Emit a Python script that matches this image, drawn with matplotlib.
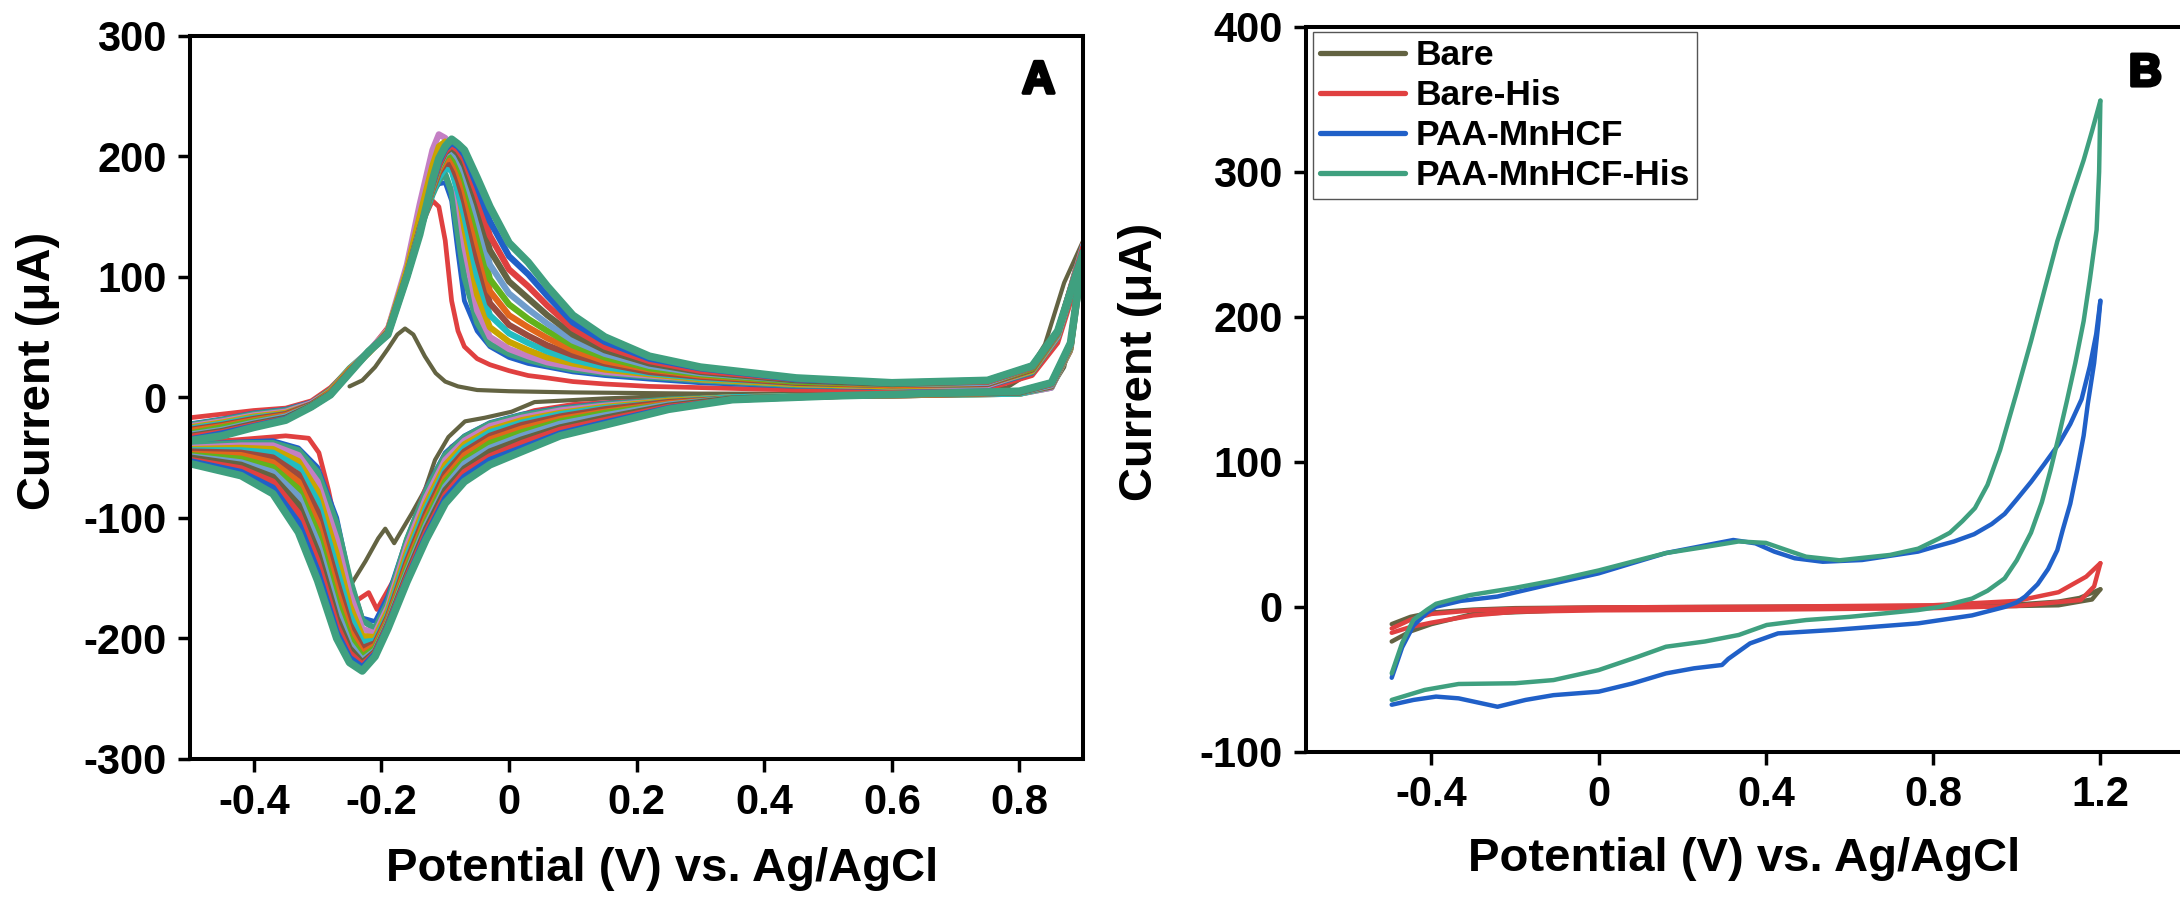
import matplotlib.pyplot as plt
from matplotlib import patheffects

plt.rcParams['font.family'] = ['Liberation Sans', 'DejaVu Sans']
plt.rcParams['font.weight'] = 'bold'
plt.rcParams['axes.unicode_minus'] = False

# ---------------- Panel A: 15 CV-Zyklen ----------------
# gemeinsame Potentialstuetzstellen (V) fuer Hin- und Rueckscan
E_fwd = [-0.50, -0.45, -0.40, -0.35, -0.31, -0.28, -0.25, -0.22, -0.19, -0.16,
         -0.14, -0.12, -0.11, -0.10, -0.09, -0.08, -0.07, -0.05, -0.03, 0.00,
         0.03, 0.06, 0.10, 0.15, 0.22, 0.30, 0.45, 0.60, 0.75, 0.82, 0.86, 0.90]
E_rev = [0.90, 0.88, 0.85, 0.80, 0.65, 0.50, 0.35, 0.25, 0.15, 0.08,
         0.02, -0.03, -0.07, -0.10, -0.13, -0.16, -0.19, -0.21, -0.23, -0.25,
         -0.27, -0.30, -0.33, -0.37, -0.42, -0.50]

# Zyklus 1 (eigene Stuetzstellen)
c1_fwd_E = [-0.25, -0.23, -0.21, -0.19, -0.175, -0.163, -0.15, -0.132, -0.115, -0.10,
            -0.08, -0.05, 0.0, 0.1, 0.3, 0.5, 0.7, 0.78, 0.81, 0.84, 0.87, 0.90]
c1_fwd = [9, 14, 25, 40, 52, 57, 52, 34, 20, 13, 9, 6, 5, 4, 3, 3, 4, 8, 18, 44, 95, 130]
c1_rev_E = [0.90, 0.885, 0.87, 0.85, 0.80, 0.6, 0.4, 0.3, 0.15, 0.04, 0.004, -0.038,
            -0.069, -0.095, -0.116, -0.132, -0.152, -0.17, -0.18, -0.194, -0.205, -0.225, -0.246]
c1_rev = [130, 60, 25, 8, 3, 2, 2, 2, -1, -4, -12, -17,
          -20, -33, -52, -77, -96, -112, -121, -109, -117, -136, -154]

# Zyklus 2
c2_fwd = [-17, -14, -11, -9, -3, 8, 24, 38, 58, 106, 140, 163, 158, 130, 80, 55,
          42, 32, 27, 22, 18, 16, 13, 11, 9, 8, 6, 5, 7, 18, 45, 112]
c2_rev_E = [0.90, 0.88, 0.85, 0.80, 0.60, 0.40, 0.20, 0.10, 0.04, -0.038, -0.09, -0.132,
            -0.155, -0.18, -0.207, -0.22, -0.24, -0.257, -0.27, -0.283, -0.298, -0.314,
            -0.35, -0.42, -0.50]
c2_rev = [112, 38, 8, 3, 1, 0, -3, -6, -11, -24, -41, -77,
          -112, -151, -176, -162, -169, -149, -110, -77, -46, -34, -32, -35, -38]

# Zyklus 3
c3_fwd = [-22, -18, -13, -10, -4, 6, 23, 37, 55, 104, 140, 170, 177, 178, 163, 120,
          80, 55, 42, 33, 28, 25, 21, 18, 15, 12, 9, 8, 9, 20, 50, 118]
c3_rev = [118, 40, 8, 3, 2, 1, 0, -2, -5, -9, -14, -21, -32, -46, -76, -117,
          -165, -186, -183, -150, -100, -58, -42, -36, -37, -39]

# Zyklen 4 - 15
c4_fwd = [-23, -19, -14, -11, -5, 6, 24, 38, 55, 100, 138, 168, 180, 185, 170, 135,
          100, 62, 44, 36, 31, 27, 23, 20, 17, 14, 10, 9, 10, 21, 50, 118]
c4_rev = [118, 40, 8, 3, 2, 1, 0, -2, -6, -10, -15, -22, -33, -48, -78, -118,
          -170, -192, -185, -150, -105, -62, -44, -38, -38, -40]
c5_fwd = [-24, -20, -15, -12, -5, 5, 23, 38, 56, 110, 160, 205, 218, 215, 200, 165,
          125, 72, 50, 40, 34, 29, 25, 21, 18, 15, 11, 9, 10, 22, 51, 124]
c5_rev = [124, 41, 8, 3, 2, 1, 0, -3, -7, -11, -17, -24, -36, -52, -83, -123,
          -174, -196, -192, -162, -118, -70, -48, -40, -40, -42]
c6_fwd = [-25, -21, -16, -13, -6, 5, 23, 37, 55, 106, 150, 192, 208, 212, 200, 175,
          140, 85, 58, 46, 39, 33, 28, 23, 19, 15, 11, 9, 11, 22, 52, 126]
c6_rev = [126, 41, 9, 3, 2, 1, 0, -3, -8, -13, -19, -27, -39, -56, -88, -128,
          -177, -199, -198, -172, -130, -78, -53, -43, -42, -43]
c7_fwd = [-26, -22, -17, -14, -6, 4, 22, 37, 54, 102, 140, 170, 182, 190, 188, 170,
          150, 100, 68, 53, 45, 38, 31, 25, 20, 16, 12, 10, 11, 23, 52, 125]
c7_rev = [125, 42, 9, 3, 2, 1, 0, -4, -9, -14, -21, -29, -42, -60, -92, -132,
          -180, -202, -203, -180, -142, -86, -58, -46, -44, -44]
c8_fwd = [-27, -23, -18, -14, -6, 4, 22, 37, 54, 102, 140, 172, 186, 194, 193, 180,
          162, 115, 78, 60, 51, 43, 35, 28, 21, 17, 12, 10, 11, 23, 53, 127]
c8_rev = [127, 42, 9, 4, 2, 1, -1, -4, -10, -16, -23, -32, -45, -63, -96, -136,
          -182, -204, -208, -188, -152, -95, -64, -50, -46, -45]
c9_fwd = [-28, -24, -19, -15, -7, 4, 22, 37, 53, 101, 139, 173, 188, 197, 198, 188,
          172, 128, 88, 68, 58, 49, 39, 30, 23, 18, 13, 10, 12, 24, 53, 123]
c9_rev = [123, 43, 10, 4, 2, 1, -1, -5, -12, -18, -26, -35, -48, -67, -100, -139,
          -184, -206, -212, -194, -161, -104, -70, -54, -48, -47]
c10_fwd = [-30, -25, -20, -16, -7, 3, 21, 37, 53, 101, 138, 174, 190, 200, 202, 193,
           180, 140, 98, 77, 65, 55, 43, 33, 24, 19, 13, 11, 12, 24, 54, 125]
c10_rev = [125, 43, 10, 4, 3, 1, -1, -6, -13, -20, -29, -38, -52, -70, -103, -142,
           -186, -208, -215, -199, -169, -112, -76, -58, -51, -48]
c11_fwd = [-31, -27, -21, -16, -7, 3, 21, 38, 53, 100, 138, 175, 191, 202, 205, 198,
           186, 150, 110, 86, 73, 61, 47, 36, 26, 20, 14, 11, 12, 25, 54, 126]
c11_rev = [126, 43, 10, 4, 3, 1, -1, -6, -15, -22, -32, -42, -55, -74, -106, -145,
           -187, -210, -218, -204, -176, -120, -82, -62, -54, -49]
c12_fwd = [-32, -28, -22, -17, -7, 3, 21, 38, 52, 100, 137, 176, 192, 203, 207, 202,
           192, 160, 122, 96, 82, 68, 52, 39, 28, 21, 14, 11, 13, 25, 54, 122]
c12_rev = [122, 44, 11, 4, 3, 1, -1, -7, -17, -25, -35, -45, -59, -77, -109, -147,
           -188, -211, -220, -208, -183, -128, -89, -66, -56, -50]
c13_fwd = [-33, -29, -23, -18, -8, 2, 20, 38, 52, 100, 136, 177, 193, 204, 209, 205,
           197, 168, 134, 106, 92, 76, 57, 42, 30, 22, 15, 12, 13, 25, 55, 124]
c13_rev = [124, 44, 11, 5, 3, 1, -2, -8, -19, -27, -38, -49, -62, -81, -112, -149,
           -189, -212, -222, -212, -189, -136, -96, -70, -59, -52]
c14_fwd = [-35, -30, -24, -18, -8, 2, 20, 38, 52, 100, 136, 178, 195, 206, 211, 208,
           201, 175, 146, 117, 102, 84, 62, 46, 32, 24, 15, 12, 14, 26, 55, 121]
c14_rev = [121, 45, 12, 5, 3, 1, -2, -9, -21, -30, -42, -52, -66, -84, -115, -151,
           -190, -213, -224, -216, -195, -144, -104, -75, -62, -53]
c15_fwd = [-36, -32, -25, -19, -8, 2, 20, 38, 52, 100, 135, 180, 198, 208, 214, 210,
           205, 182, 158, 128, 112, 92, 68, 50, 34, 25, 16, 12, 14, 26, 55, 120]
c15_rev = [120, 45, 12, 5, 3, 1, -2, -10, -23, -32, -45, -56, -70, -88, -118, -153,
           -192, -215, -227, -220, -200, -152, -112, -80, -65, -55]

a_xticks = [-0.4, -0.2, 0, 0.2, 0.4, 0.6, 0.8]
a_xticklabels = ['-0.4', '-0.2', '0', '0.2', '0.4', '0.6', '0.8']
a_yticks = [-300, -200, -100, 0, 100, 200, 300]
a_yticklabels = ['-300', '-200', '-100', '0', '100', '200', '300']

# ---------------- Panel B: vier Elektroden ----------------
bare_fwd_E = [-0.495, -0.45, -0.40, -0.30, -0.20, 0.0, 0.40, 0.80, 1.00, 1.10, 1.15, 1.20]
bare_fwd_I = [-12, -7, -4, -2, -1, -0.5, 0, 0.5, 1.5, 3.5, 6, 12]
bare_rev_E = [1.20, 1.18, 1.10, 0.90, 0.50, 0.0, -0.30, -0.40, -0.45, -0.495]
bare_rev_I = [12, 5, 1, 0, -0.5, -1.5, -5, -12, -17, -24]

bh_fwd_E = [-0.495, -0.45, -0.40, -0.30, -0.20, 0.0, 0.40, 0.80, 1.00, 1.10, 1.166, 1.20]
bh_fwd_I = [-15, -9, -5, -2.5, -1.5, -0.5, 0, 1, 4, 10, 20.7, 30]
bh_rev_E = [1.20, 1.185, 1.153, 1.00, 0.80, 0.40, 0.0, -0.20, -0.30, -0.40, -0.45, -0.495]
bh_rev_I = [30, 14, 4.6, 0.5, -1, -2, -2.5, -3.5, -6, -11, -14, -18]

mn_fwd_E = [-0.495, -0.47, -0.443, -0.41, -0.389, -0.33, -0.242, -0.108, 0.0, 0.08,
            0.161, 0.25, 0.322, 0.375, 0.42, 0.469, 0.536, 0.63, 0.764, 0.80,
            0.85, 0.898, 0.94, 0.971, 1.0, 1.034, 1.065, 1.1, 1.128, 1.155,
            1.175, 1.19, 1.2]
mn_fwd_I = [-49, -28, -13, -4, 0, 4, 7, 16, 23, 30,
            37, 42, 46, 43.7, 38, 33.4, 31, 32.2, 38, 41,
            45, 50, 57, 64, 74, 86, 98, 112, 126, 143,
            166, 188, 211]
mn_rev_E = [1.2, 1.195, 1.185, 1.17, 1.16, 1.145, 1.128, 1.11, 1.097, 1.075,
            1.05, 1.02, 1.0, 0.971, 0.893, 0.764, 0.563, 0.429, 0.362, 0.31,
            0.295, 0.228, 0.161, 0.08, 0.0, -0.108, -0.175, -0.242, -0.335, -0.389,
            -0.443, -0.495]
mn_rev_I = [211, 195, 168, 140, 118, 95, 71, 53, 39, 26,
            15.5, 7, 3, -0.2, -6, -11.5, -16, -18.4, -25.3, -36,
            -40.2, -42.5, -46, -53, -58.6, -61, -64.3, -69, -63.2, -62,
            -64.3, -67.6]

his_fwd_E = [-0.495, -0.47, -0.443, -0.41, -0.389, -0.35, -0.308, -0.2, -0.108, 0.0,
             0.08, 0.161, 0.25, 0.335, 0.40, 0.45, 0.496, 0.576, 0.697, 0.764,
             0.814, 0.84, 0.87, 0.90, 0.93, 0.96, 1.0, 1.034, 1.065, 1.097,
             1.13, 1.16, 1.18, 1.2]
his_fwd_I = [-46, -25, -9, -2, 2, 5, 8, 13, 18, 25,
             31, 37, 41, 45, 44, 39, 34.5, 32, 35.7, 40,
             47, 51, 59, 68, 84, 108, 148, 183, 217, 252,
             282, 308, 328, 349]
his_rev_E = [1.2, 1.197, 1.191, 1.175, 1.16, 1.14, 1.12, 1.1, 1.081, 1.06,
             1.034, 1.0, 0.971, 0.93, 0.893, 0.814, 0.764, 0.6, 0.496, 0.402,
             0.335, 0.254, 0.161, 0.094, 0.0, -0.108, -0.2, -0.335, -0.416, -0.495]
his_rev_I = [349, 300, 260, 226, 197, 168, 142, 117, 94.5, 72,
             51, 32, 19.5, 11, 5.6, -0.2, -2.3, -7, -9.2, -12.6,
             -19.5, -24, -27.6, -34.5, -43.7, -50.6, -52.8, -53.3, -57.4, -64.3]

legend_labels = ['Bare', 'Bare-His', 'PAA-MnHCF', 'PAA-MnHCF-His']
b_xticks = [-0.4, 0, 0.4, 0.8, 1.2]
b_xticklabels = ['-0.4', '0', '0.4', '0.8', '1.2']
b_yticks = [-100, 0, 100, 200, 300, 400]
b_yticklabels = ['-100', '0', '100', '200', '300', '400']

# Farben
OLIVE, RED, BLUE, TEAL = '#636342', '#e04040', '#2060c8', '#3fa07f'
cycle_colors = [OLIVE, RED, BLUE, TEAL, '#c47fc4', '#c9a400', '#22bcc0', '#9a4a3e',
                '#e2661c', '#62b21c', '#6f9dcc', OLIVE, RED, BLUE, TEAL]


def style_axes(ax, xticks, xticklabels, yticks, yticklabels):
    """Rahmen und Ticks im Stil der Vorlage."""
    for sp in ax.spines.values():
        sp.set_linewidth(2.9)
    ax.set_xticks(xticks)
    ax.set_xticklabels(xticklabels)
    ax.set_yticks(yticks)
    ax.set_yticklabels(yticklabels)
    ax.tick_params(direction='out', length=9, width=2.5, labelsize=30, pad=8)
    ax.set_xlabel('Potential (V) vs. Ag/AgCl', fontsize=34, fontweight='bold')
    ax.set_ylabel('Current (\u03bcA)', fontsize=34, fontweight='bold')


def panel_label(ax, x, y, text):
    ax.text(x, y, text, transform=ax.transAxes, ha='center', va='center',
            fontsize=33, fontweight='bold',
            path_effects=[patheffects.withStroke(linewidth=2.5, foreground='black')])


def plot_panel_a(ax):
    """Zyklen der Abscheidung."""
    line_kw = dict(solid_joinstyle='round', solid_capstyle='round')
    ax.plot(c1_fwd_E, c1_fwd, color=cycle_colors[0], lw=3.0, **line_kw)
    ax.plot(c1_rev_E, c1_rev, color=cycle_colors[0], lw=3.0, **line_kw)
    ax.plot(E_fwd, c2_fwd, color=cycle_colors[1], lw=3.4, **line_kw)
    ax.plot(c2_rev_E, c2_rev, color=cycle_colors[1], lw=3.4, **line_kw)
    ax.plot(E_fwd, c3_fwd, color=cycle_colors[2], lw=3.4, **line_kw)
    ax.plot(E_rev, c3_rev, color=cycle_colors[2], lw=3.4, **line_kw)

    band = [(c4_fwd, c4_rev), (c5_fwd, c5_rev), (c6_fwd, c6_rev), (c7_fwd, c7_rev),
            (c8_fwd, c8_rev), (c9_fwd, c9_rev), (c10_fwd, c10_rev), (c11_fwd, c11_rev),
            (c12_fwd, c12_rev), (c13_fwd, c13_rev), (c14_fwd, c14_rev), (c15_fwd, c15_rev)]
    for i, (fwd, rev) in enumerate(band):
        color = cycle_colors[i + 3]
        lw = 5.5 if i == len(band) - 1 else 4.5
        ax.plot(E_fwd, fwd, color=color, lw=lw, **line_kw)
        ax.plot(E_rev, rev, color=color, lw=lw, **line_kw)

    ax.set_xlim(-0.5, 0.9)
    ax.set_ylim(-300, 300)
    style_axes(ax, a_xticks, a_xticklabels, a_yticks, a_yticklabels)
    ax.xaxis.set_label_coords(0.529, -0.122)
    ax.yaxis.set_label_coords(-0.146, 0.536)
    panel_label(ax, 0.950, 0.937, 'A')


def plot_panel_b(ax):
    """Vergleich der Elektroden."""
    line_kw = dict(lw=3.2, solid_joinstyle='round', solid_capstyle='round')
    series = [(bare_fwd_E, bare_fwd_I, bare_rev_E, bare_rev_I, OLIVE),
              (bh_fwd_E, bh_fwd_I, bh_rev_E, bh_rev_I, RED),
              (mn_fwd_E, mn_fwd_I, mn_rev_E, mn_rev_I, BLUE),
              (his_fwd_E, his_fwd_I, his_rev_E, his_rev_I, TEAL)]
    handles = []
    for (ef, i_f, er, i_r, color), label in zip(series, legend_labels):
        h, = ax.plot(ef, i_f, color=color, label=label, **line_kw)
        ax.plot(er, i_r, color=color, **line_kw)
        handles.append(h)

    ax.set_xlim(-0.7, 1.4)
    ax.set_ylim(-100, 400)
    style_axes(ax, b_xticks, b_xticklabels, b_yticks, b_yticklabels)
    ax.xaxis.set_label_coords(0.499, -0.118)
    ax.yaxis.set_label_coords(-0.164, 0.5375)
    panel_label(ax, 0.956, 0.935, 'B')

    leg = ax.legend(handles=handles, loc='upper left', bbox_to_anchor=(0.008, 0.9927),
                    borderaxespad=0, fontsize=25.5, handlelength=2.4, handletextpad=0.3,
                    labelspacing=0.2, borderpad=0.2, fancybox=False, framealpha=1,
                    edgecolor='#555555')
    leg.get_frame().set_linewidth(1.0)
    for ln in leg.get_lines():
        ln.set_linewidth(3.8)


fig = plt.figure(figsize=(21.8, 8.98), dpi=100)
ax_a = fig.add_axes([190 / 2180, 139 / 898, 893.3 / 2180, 723.5 / 898])
ax_b = fig.add_axes([1306 / 2180, 146.3 / 898, 878 / 2180, 725 / 898])
plot_panel_a(ax_a)
plot_panel_b(ax_b)
fig.savefig('out.png', dpi=100)
